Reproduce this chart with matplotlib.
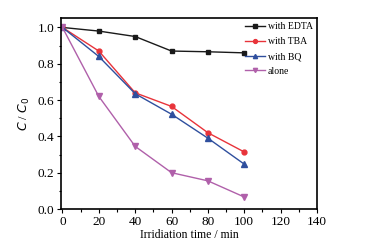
import matplotlib.pyplot as plt
from matplotlib.ticker import MultipleLocator

plt.rcParams['font.family'] = ['Liberation Serif', 'DejaVu Serif']

time = [0, 20, 40, 60, 80, 100]
edta = [1.0, 0.98, 0.95, 0.87, 0.866, 0.86]
tba = [1.0, 0.87, 0.64, 0.565, 0.42, 0.314]
bq = [1.0, 0.84, 0.635, 0.522, 0.39, 0.247]
alone = [1.0, 0.62, 0.345, 0.2, 0.155, 0.066]

fig = plt.figure(figsize=(3.92, 2.45), dpi=100)
ax = fig.add_axes([61 / 392, 1 - 209 / 245, 256 / 392, 191 / 245])

ax.plot(time, edta, color='#1a1a1a', marker='s', ms=3.5, lw=1, label='with EDTA')
ax.plot(time, tba, color='#e8333a', marker='o', ms=3.5, lw=1, label='with TBA')
ax.plot(time, bq, color='#2f4f9e', marker='^', ms=3.8, lw=1, label='with BQ')
ax.plot(time, alone, color='#b060aa', marker='v', ms=3.8, lw=1, label='alone')

ax.set_xlim(-0.8, 140)
ax.set_ylim(0, 1.052)
ax.xaxis.set_major_locator(MultipleLocator(20))
ax.xaxis.set_minor_locator(MultipleLocator(10))
ax.yaxis.set_major_locator(MultipleLocator(0.2))
ax.yaxis.set_minor_locator(MultipleLocator(0.1))
ax.set_yticklabels([f'{v:.1f}' for v in ax.get_yticks()])
ax.tick_params(labelsize=9.5, length=3, width=0.8, pad=2)
ax.tick_params(which='minor', length=1.8, width=0.8)
for s in ax.spines.values():
    s.set_linewidth(1.2)

ax.set_xlabel('Irridiation time / min', fontsize=8.5, labelpad=1)
ax.set_ylabel('$C$ / $C_0$', fontsize=9, labelpad=4)

ax.legend(loc='upper right', fontsize=7, frameon=False, handlelength=2.0,
          handletextpad=0.3, labelspacing=0.6, borderaxespad=0.05,
          markerscale=0.8)

fig.savefig('out.png', dpi=100)
